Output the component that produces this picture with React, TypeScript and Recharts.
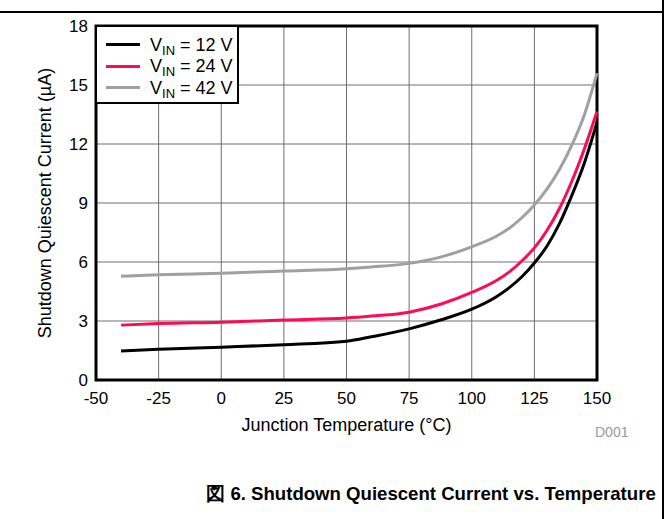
import React from 'react'
import {
  LineChart,
  Line,
  XAxis,
  YAxis,
  CartesianGrid,
  ReferenceArea,
  Legend,
} from 'recharts'

const temps = [-40, -25, 0, 25, 50, 60, 75, 87.5, 100, 110, 115, 120, 125, 130, 135, 140, 145, 150]
const vin12 = [1.47, 1.56, 1.67, 1.79, 1.97, 2.2, 2.6, 3.05, 3.6, 4.25, 4.7, 5.25, 5.95, 6.8, 7.95, 9.4, 11.05, 13.1]
const vin24 = [2.79, 2.87, 2.94, 3.05, 3.15, 3.25, 3.45, 3.85, 4.45, 5.07, 5.5, 6.05, 6.72, 7.6, 8.72, 10.12, 11.77, 13.65]
const vin42 = [5.28, 5.35, 5.43, 5.54, 5.66, 5.75, 5.93, 6.25, 6.77, 7.32, 7.72, 8.25, 8.9, 9.7, 10.7, 11.95, 13.5, 15.6]

const xTicks = [-50, -25, 0, 25, 50, 75, 100, 125, 150]
const yTicks = [0, 3, 6, 9, 12, 15, 18]

const series = [
  { key: 'v12', name: '12', color: '#000000' },
  { key: 'v24', name: '24', color: '#ff0a55' },
  { key: 'v42', name: '42', color: '#a0a0a0' },
]

const data = temps.map((t, i) => ({ t, v12: vin12[i], v24: vin24[i], v42: vin42[i] }))

const FONT = '"Liberation Sans", Arial, sans-serif'

const LegendBox = (props: any) => {
  const items = props.payload || []
  return (
    <div
      style={{
        width: 144,
        height: 79,
        border: '2px solid #000',
        background: '#fff',
        fontFamily: FONT,
        fontSize: 18,
        color: '#000',
        paddingTop: 7,
        boxSizing: 'border-box',
      }}
    >
      {items.map((it: any) => (
        <div key={it.value} style={{ display: 'flex', alignItems: 'center', height: 21.5 }}>
          <div style={{ width: 34, height: 3, background: it.color, marginLeft: 9, marginRight: 10 }} />
          <span style={{ lineHeight: '20px', whiteSpace: 'nowrap' }}>
            V<sub style={{ fontSize: 13, verticalAlign: '-4px', lineHeight: 0 }}>IN</sub> = {it.value} V
          </span>
        </div>
      ))}
    </div>
  )
}

export default function App() {
  return (
    <div
      style={{
        position: 'absolute',
        left: 0,
        top: 0,
        width: 669,
        height: 519,
        background: '#fff',
        overflow: 'hidden',
      }}
    >
      <div style={{ position: 'absolute', left: 0, top: 11, width: 664, height: 2, background: '#000' }} />
      <div style={{ position: 'absolute', left: 662, top: 0, width: 2, height: 519, background: '#000' }} />
      <LineChart
        width={669}
        height={519}
        data={data}
        margin={{ top: 26, right: 72, bottom: 79, left: 56 }}
      >
        <CartesianGrid stroke="#6e6e6e" strokeWidth={1} />
        <XAxis
          dataKey="t"
          type="number"
          domain={[-50, 150]}
          ticks={xTicks}
          interval={0}
          axisLine={false}
          tickLine={false}
          tickMargin={6}
          height={60}
          tick={{ fill: '#000', fontSize: 17, fontFamily: FONT }}
          label={{
            value: 'Junction Temperature (°C)',
            position: 'insideBottom',
            offset: 9,
            style: { fill: '#000', fontSize: 18, fontFamily: FONT },
          }}
        />
        <YAxis
          type="number"
          domain={[0, 18]}
          ticks={yTicks}
          interval={0}
          axisLine={false}
          tickLine={false}
          width={40}
          tick={{ fill: '#000', fontSize: 17, fontFamily: FONT }}
          label={{
            value: 'Shutdown Quiescent Current (µA)',
            angle: -90,
            position: 'insideLeft',
            offset: -11,
            style: { fill: '#000', fontSize: 18, fontFamily: FONT, textAnchor: 'middle' },
          }}
        />
        <ReferenceArea x1={-50} x2={150} y1={0} y2={18} fill="none" stroke="#000" strokeWidth={3} />
        {series.map((s) => (
          <Line
            key={s.key}
            dataKey={s.key}
            name={s.name}
            type="monotone"
            stroke={s.color}
            strokeWidth={3}
            dot={false}
            activeDot={false}
            isAnimationActive={false}
          />
        ))}
        <Legend
          layout="horizontal"
          verticalAlign="middle"
          align="center"
          content={<LegendBox />}
          wrapperStyle={{ position: 'absolute', left: 95, top: 25, width: 'auto', height: 'auto' }}
        />
      </LineChart>
      <div
        style={{
          position: 'absolute',
          left: 595,
          top: 424,
          fontFamily: FONT,
          fontSize: 14,
          color: '#999',
        }}
      >
        D001
      </div>
      <div
        style={{
          position: 'absolute',
          left: 0,
          width: 862,
          top: 481,
          textAlign: 'center',
          fontFamily: FONT,
          fontWeight: 'bold',
          fontSize: 18.6,
          color: '#000',
          whiteSpace: 'nowrap',
        }}
      >
        図 6. Shutdown Quiescent Current vs. Temperature
      </div>
    </div>
  )
}
